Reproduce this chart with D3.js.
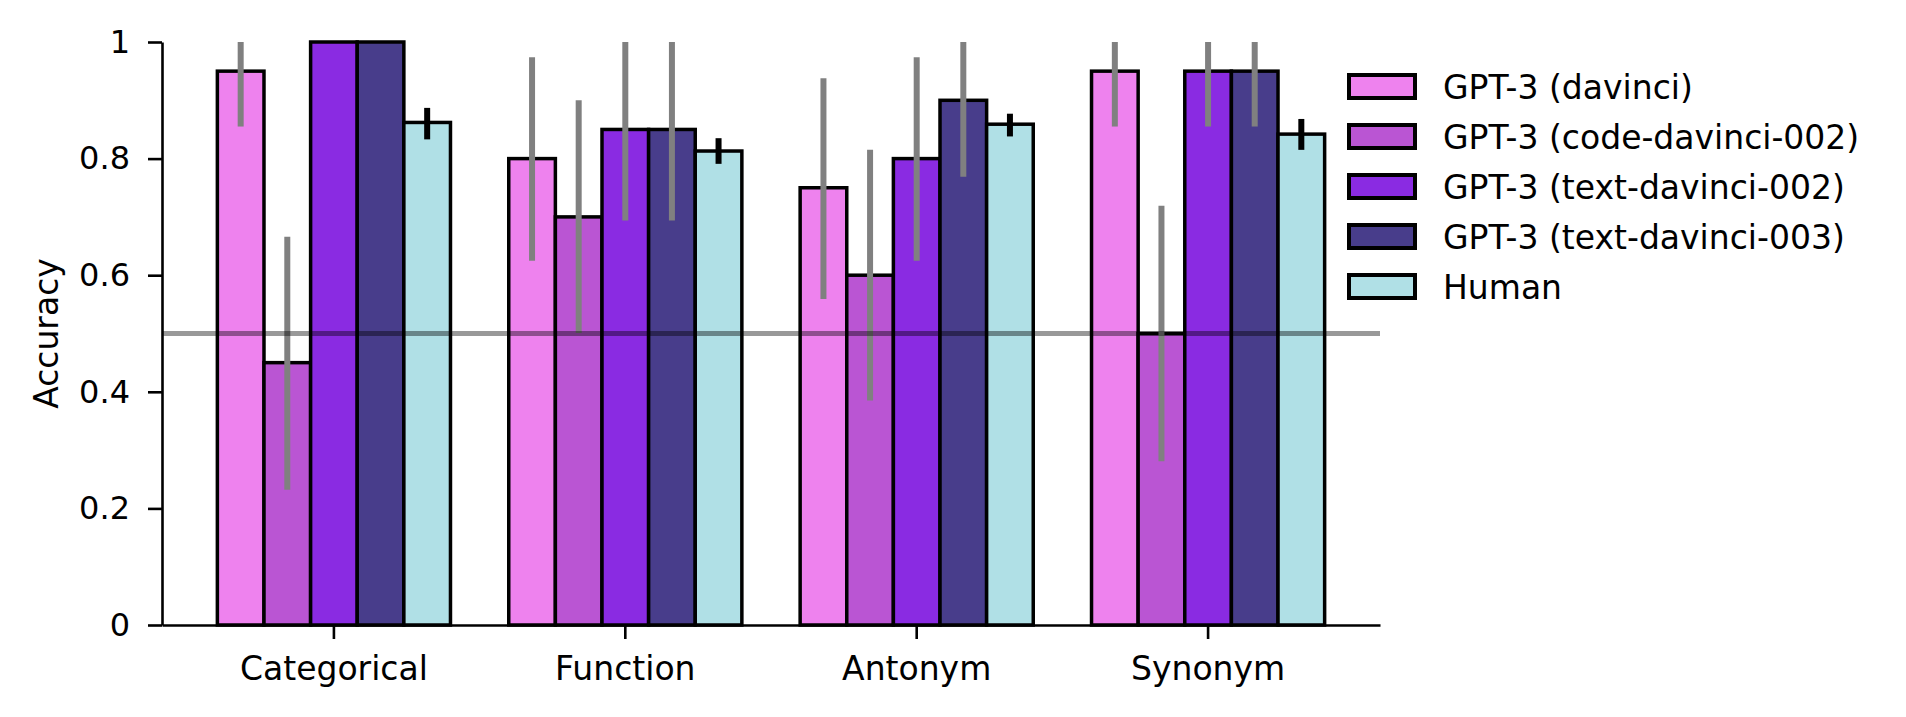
<!DOCTYPE html>
<html>
<head>
<meta charset="utf-8">
<script src="https://cdn.jsdelivr.net/npm/d3@7"></script>
<style>
  html, body { margin: 0; padding: 0; background: #fff; }
  svg text { font-family: "DejaVu Sans", sans-serif; fill: #000; }
</style>
</head>
<body>
<svg id="chart" width="1906" height="717"></svg>
<script>
const categories = ["Categorical", "Function", "Antonym", "Synonym"];
const models = [
  "GPT-3 (davinci)",
  "GPT-3 (code-davinci-002)",
  "GPT-3 (text-davinci-002)",
  "GPT-3 (text-davinci-003)",
  "Human"
];
const colors = ["#EE82EE", "#BA55D3", "#8A2BE2", "#483D8B", "#B0E0E6"];

// mean accuracy per category
const davinci        = [0.95, 0.80, 0.75, 0.95];
const codeDavinci002 = [0.45, 0.70, 0.60, 0.50];
const textDavinci002 = [1.00, 0.85, 0.80, 0.95];
const textDavinci003 = [1.00, 0.85, 0.90, 0.95];
const human          = [0.862, 0.813, 0.859, 0.842];

// confidence intervals
const davinciLo = [0.855, 0.625, 0.559, 0.855];
const davinciHi = [1.00, 0.974, 0.938, 1.00];
const codeLo    = [0.232, 0.501, 0.385, 0.281];
const codeHi    = [0.666, 0.900, 0.815, 0.719];
const text2Lo   = [1.00, 0.694, 0.625, 0.855];
const text2Hi   = [1.00, 1.00, 0.974, 1.00];
const text3Lo   = [1.00, 0.694, 0.769, 0.855];
const text3Hi   = [1.00, 1.00, 1.00, 1.00];
const humanLo   = [0.833, 0.791, 0.838, 0.815];
const humanHi   = [0.887, 0.835, 0.877, 0.868];

const yTicks = [0, 0.2, 0.4, 0.6, 0.8, 1];
const yTickLabels = ["0", "0.2", "0.4", "0.6", "0.8", "1"];
const chance = 0.5;

const series = [davinci, codeDavinci002, textDavinci002, textDavinci003, human];
const lows = [davinciLo, codeLo, text2Lo, text3Lo, humanLo];
const highs = [davinciHi, codeHi, text2Hi, text3Hi, humanHi];

const svg = d3.select("#chart");
const plotLeft = 162, plotRight = 1380, plotTop = 42, plotBottom = 625;

const x = d3.scaleBand().domain(categories).range([plotLeft, plotRight])
  .paddingInner(0.2).paddingOuter(0.19);
const xs = d3.scaleBand().domain(d3.range(models.length)).range([0, x.bandwidth()]);
const y = d3.scaleLinear().domain([0, 1]).range([plotBottom, plotTop]);

const rows = [];
series.forEach((vals, s) => vals.forEach((v, c) => rows.push({
  s, cat: categories[c], v, lo: lows[s][c], hi: highs[s][c]
})));

// bars
svg.append("g").selectAll("rect").data(rows).join("rect")
  .attr("x", d => x(d.cat) + xs(d.s))
  .attr("y", d => y(d.v))
  .attr("width", xs.bandwidth())
  .attr("height", d => y(0) - y(d.v))
  .attr("fill", d => colors[d.s])
  .attr("stroke", "#000")
  .attr("stroke-width", 3.5);

// error bars
svg.append("g").selectAll("line").data(rows.filter(d => d.hi > d.lo)).join("line")
  .attr("x1", d => x(d.cat) + xs(d.s) + xs.bandwidth() / 2)
  .attr("x2", d => x(d.cat) + xs(d.s) + xs.bandwidth() / 2)
  .attr("y1", d => y(d.lo))
  .attr("y2", d => y(d.hi))
  .attr("stroke", d => d.s === 4 ? "#000" : "#808080")
  .attr("stroke-width", 6);

// chance line
svg.append("line")
  .attr("x1", plotLeft).attr("x2", plotRight)
  .attr("y1", y(chance)).attr("y2", y(chance))
  .attr("stroke", "#000").attr("stroke-opacity", 0.4)
  .attr("stroke-width", 5);

// axes
const yAxis = svg.append("g")
  .attr("transform", `translate(${plotLeft},0)`)
  .call(d3.axisLeft(y).tickValues(yTicks)
    .tickFormat((d, i) => yTickLabels[i])
    .tickSize(14).tickSizeOuter(0).tickPadding(18));

const xAxis = svg.append("g")
  .attr("transform", `translate(0,${plotBottom})`)
  .call(d3.axisBottom(x).tickSize(14).tickSizeOuter(0).tickPadding(18));

[yAxis, xAxis].forEach(g => {
  g.selectAll("path, line").attr("stroke", "#000").attr("stroke-width", 2.6);
  g.selectAll("text").style("font-family", "'DejaVu Sans', sans-serif");
});
yAxis.selectAll("text").style("font-size", "32px");
xAxis.selectAll("text").style("font-size", "33px");

svg.append("text")
  .attr("transform", `translate(46,${(plotTop + plotBottom) / 2}) rotate(-90)`)
  .attr("text-anchor", "middle").attr("dy", "0.35em")
  .style("font-size", "33px")
  .text("Accuracy");

// legend
const legend = svg.append("g").attr("transform", "translate(1349,75)");
const item = legend.selectAll("g").data(models).join("g")
  .attr("transform", (d, i) => `translate(0,${i * 50})`);
item.append("rect")
  .attr("width", 66).attr("height", 23)
  .attr("fill", (d, i) => colors[i])
  .attr("stroke", "#000").attr("stroke-width", 4);
item.append("text")
  .attr("x", 94).attr("y", 24)
  .style("font-size", "33px")
  .text(d => d);
</script>
</body>
</html>
